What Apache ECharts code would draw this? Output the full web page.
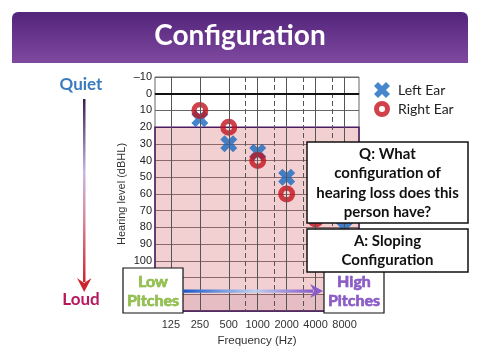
<!DOCTYPE html>
<html><head><meta charset="utf-8">
<script src="https://cdn.jsdelivr.net/npm/echarts@6/dist/echarts.min.js"></script>
<style>html,body{margin:0;padding:0;background:#fff}#c{width:480px;height:360px}</style>
</head><body><div id="c"></div>
<script>
const freqTicks = [125, 250, 500, 1000, 2000, 4000, 8000];
const freqLabels = ['125', '250', '500', '1000', '2000', '4000', '8000'];
const halfOctaves = [750, 1500, 3000, 6000];
const testFreqs = [250, 500, 1000, 2000, 4000, 8000];
const leftEar = [15, 30, 35, 50, 65, 80];
const rightEar = [10, 20, 40, 60, 75, 90];

const oct = f => Math.log2(f / 125);
const X_MIN = -0.55, X_MAX = 6.5;
const XPATH = 'path://M0,2.5 L2.5,0 L5,2.5 L7.5,0 L10,2.5 L7.5,5 L10,7.5 L7.5,10 L5,7.5 L2.5,10 L0,7.5 L2.5,5 Z';
const OPATH = 'path://M5,0 A5,5 0 1,1 5,10 A5,5 0 1,1 5,0 Z M5,3.1 A1.9,1.9 0 1,0 5,6.9 A1.9,1.9 0 1,0 5,3.1 Z';
const FONT = 'Lato, "Open Sans", sans-serif';

const chart = echarts.init(document.getElementById('c'), null, {renderer: 'canvas'});
const lg = (x2, y2, stops) => ({type: 'linear', x: 0, y: 0, x2: x2, y2: y2,
  colorStops: stops.map(s => ({offset: s[0], color: s[1]}))});

chart.setOption({
  animation: false,
  backgroundColor: '#fff',
  grid: {left: 155, right: 121, top: 77, bottom: 49, show: true, borderColor: '#666', borderWidth: 1},
  legend: {
    orient: 'vertical', left: 369, top: 77, itemWidth: 16, itemHeight: 16, itemGap: 3,
    textStyle: {fontFamily: FONT, fontSize: 14, color: '#222', padding: [0, 0, 0, 3]},
    data: [{name: 'Left Ear', icon: XPATH}, {name: 'Right Ear', icon: OPATH}]
  },
  xAxis: {
    type: 'value', min: X_MIN, max: X_MAX,
    splitLine: {show: false}, axisTick: {show: false},
    axisLine: {show: true, lineStyle: {color: '#666'}},
    axisLabel: {
      customValues: freqTicks.map(oct), margin: 8, fontSize: 11, color: '#333',
      fontFamily: 'Liberation Sans, Arial, sans-serif',
      formatter: v => freqLabels[Math.round(v)]
    },
    name: 'Frequency (Hz)', nameLocation: 'middle', nameGap: 23,
    nameTextStyle: {fontSize: 11.5, color: '#333', fontFamily: 'Liberation Sans, Arial, sans-serif'}
  },
  yAxis: {
    type: 'value', inverse: true, min: -10, max: 130, interval: 10,
    splitLine: {show: true, lineStyle: {color: '#666', width: 1}},
    axisTick: {show: false},
    axisLine: {show: true, lineStyle: {color: '#666'}},
    axisLabel: {
      margin: 3, fontSize: 11, color: '#222', fontFamily: 'Liberation Sans, Arial, sans-serif',
      formatter: v => v > 100 ? '' : String(v).replace('-', '\u2013')
    },
    name: 'Hearing level (dBHL)', nameLocation: 'middle', nameGap: 28,
    nameTextStyle: {fontSize: 11, color: '#333', fontFamily: 'Liberation Sans, Arial, sans-serif'}
  },
  series: [
    {
      type: 'line', data: [], z: 1, silent: true,
      markLine: {
        silent: true, symbol: 'none', label: {show: false}, animation: false,
        data: [
          ...freqTicks.map(f => ({xAxis: oct(f), lineStyle: {color: '#555', width: 1, type: 'solid'}})),
          ...halfOctaves.map(f => ({xAxis: oct(f), lineStyle: {color: '#555', width: 1, type: [5, 3]}})),
          {yAxis: 0, lineStyle: {color: '#111', width: 2.2, type: 'solid'}}
        ]
      }
    },
    {
      type: 'line', data: [], z: 2, silent: true,
      markArea: {
        silent: true, animation: false,
        data: [
          [{xAxis: X_MIN, yAxis: 20, itemStyle: {color: 'rgba(215,108,115,0.33)', borderColor: '#4a1d62', borderWidth: 1.5}},
           {xAxis: X_MAX, yAxis: 130}],
          [{xAxis: X_MIN, yAxis: 120, itemStyle: {color: 'rgba(120,40,70,0.10)', borderWidth: 0}},
           {xAxis: X_MAX, yAxis: 130}]
        ]
      }
    },
    {
      name: 'Left Ear', type: 'scatter', z: 3, symbol: XPATH, symbolSize: 17,
      itemStyle: {color: '#1668c0'},
      data: testFreqs.map((f, i) => [oct(f), leftEar[i]])
    },
    {
      name: 'Right Ear', type: 'scatter', z: 4, symbol: OPATH, symbolSize: 17,
      itemStyle: {color: '#c4121c'},
      data: testFreqs.map((f, i) => [oct(f), rightEar[i]])
    }
  ],
  graphic: [
    {type: 'rect', shape: {x: 12, y: 12, width: 456, height: 51, r: [6, 6, 0, 0]},
     style: {fill: lg(0, 1, [[0, '#52247a'], [1, '#8049a0']])}, z: 10},
    {type: 'text', z: 11, style: {text: 'Configuration', x: 240, y: 36, align: 'center', verticalAlign: 'middle',
      fill: '#fff', font: 'bold 28px ' + FONT, shadowColor: 'rgba(0,0,0,0.35)', shadowBlur: 2, shadowOffsetX: 1, shadowOffsetY: 1}},
    {type: 'text', z: 11, style: {text: 'Quiet', x: 81, y: 85, align: 'center', verticalAlign: 'middle',
      fill: '#3a7bbf', font: 'bold 17px ' + FONT}},
    {type: 'rect', z: 11, shape: {x: 83, y: 99, width: 2.5, height: 183},
     style: {fill: lg(0, 1, [[0, '#3a1c4e'], [0.4, '#c9b7e2'], [0.65, '#d98a9c'], [1, '#cc2530']])}},
    {type: 'polygon', z: 11, shape: {points: [[77, 278], [84.2, 283], [91.5, 278], [84.2, 292]]},
     style: {fill: '#cc2530'}},
    {type: 'text', z: 11, style: {text: 'Loud', x: 81, y: 300, align: 'center', verticalAlign: 'middle',
      fill: '#b8185e', font: 'bold 17px ' + FONT}},
    {type: 'rect', z: 11, shape: {x: 307, y: 142, width: 161, height: 81},
     style: {fill: '#fff', stroke: '#111', lineWidth: 1.5}},
    {type: 'text', z: 12, style: {text: 'Q: What\nconfiguration of\nhearing loss does this\nperson have?',
      x: 387.5, y: 183, align: 'center', verticalAlign: 'middle', lineHeight: 19.5,
      fill: '#111', font: 'bold 15px ' + FONT}},
    {type: 'rect', z: 11, shape: {x: 123, y: 268, width: 60, height: 45},
     style: {fill: '#fff', stroke: '#111', lineWidth: 1.2}},
    {type: 'text', z: 12, style: {text: 'Low\nPitches', x: 153, y: 291, align: 'center', verticalAlign: 'middle',
      lineHeight: 19, fill: '#93c24d', stroke: '#79a43a', lineWidth: 0.6, font: 'bold 16px ' + FONT}},
    {type: 'rect', z: 11, shape: {x: 324, y: 266, width: 60, height: 47},
     style: {fill: '#fff', stroke: '#111', lineWidth: 1.2}},
    {type: 'text', z: 12, style: {text: 'High\nPitches', x: 354, y: 291, align: 'center', verticalAlign: 'middle',
      lineHeight: 19, fill: '#8d5cc9', stroke: '#7446b0', lineWidth: 0.6, font: 'bold 16px ' + FONT}},
    {type: 'rect', z: 13, shape: {x: 307, y: 229, width: 161, height: 43},
     style: {fill: '#fff', stroke: '#111', lineWidth: 1.5}},
    {type: 'text', z: 14, style: {text: 'A: Sloping\nConfiguration', x: 387.5, y: 250.5, align: 'center',
      verticalAlign: 'middle', lineHeight: 18.5, fill: '#111', font: 'bold 15px ' + FONT}},
    {type: 'rect', z: 11, shape: {x: 183, y: 289.5, width: 130, height: 3.2},
     style: {fill: lg(1, 0, [[0, '#1a58c8'], [0.55, '#bcd0f0'], [1, '#8a5cc8']])}},
    {type: 'polygon', z: 11, shape: {points: [[310, 284], [323, 291], [310, 298], [314, 291]]},
     style: {fill: '#8a5cc8'}}
  ]
});
</script>
</body></html>
